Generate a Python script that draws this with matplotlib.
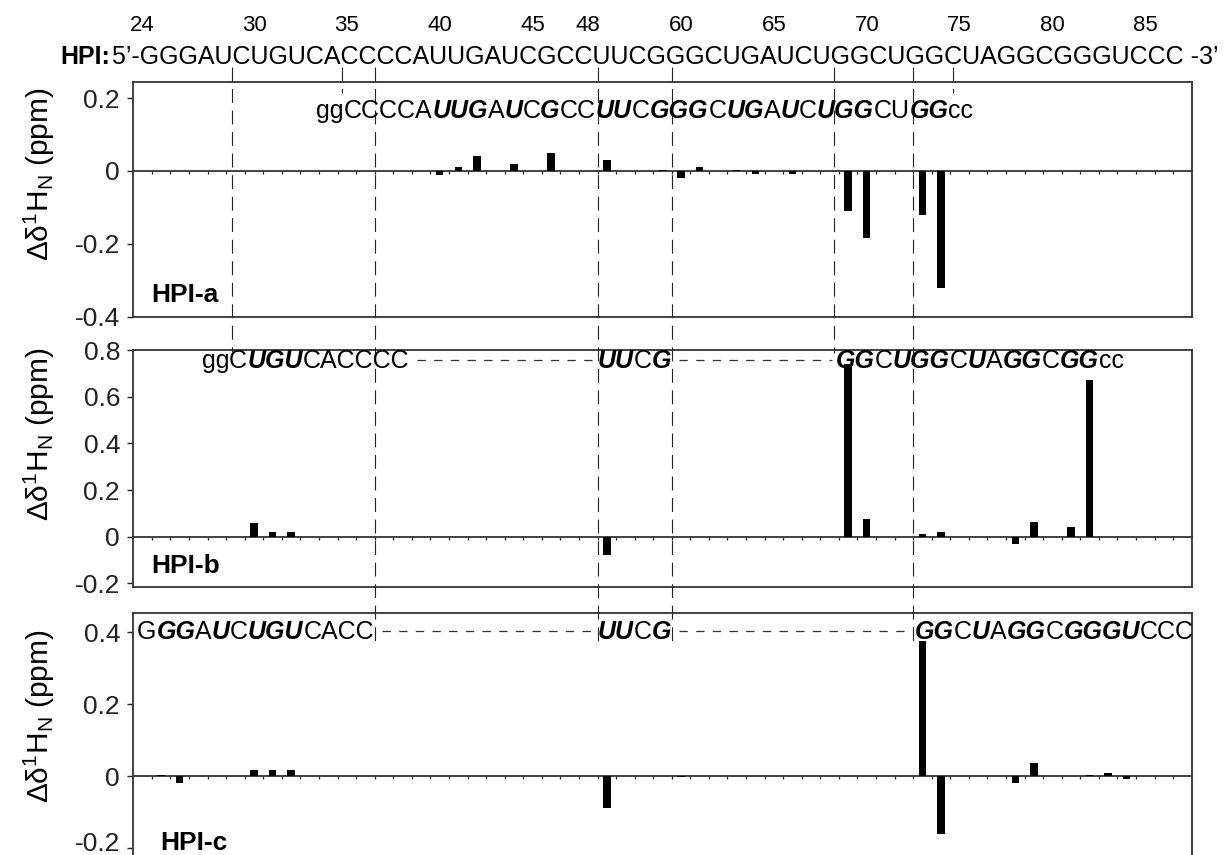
import numpy as np
import matplotlib
matplotlib.use('Agg')
import matplotlib.pyplot as plt
from matplotlib import transforms
from matplotlib.lines import Line2D

# ---- data -------------------------------------------------------------
# HPI sequence, one bar slot per nucleotide (UUCG loop replaces 49-59)
seq = "GGGAUCUGUCACCCCAUUGAUCGCCUUCGGGCUGAUCUGGCUGGCUAGGCGGGUCCC"
num_pos = [0, 6, 11, 16, 21, 24, 29, 34, 39, 44, 49, 54]
num_labels = ['24', '30', '35', '40', '45', '48', '60', '65', '70', '75', '80', '85']

# chemical shift perturbations (ppm) by slot index
hpi_a_idx = [16, 17, 18, 20, 22, 25, 28, 29, 30, 32, 33, 35, 38, 39, 42, 43]
hpi_a_val = [-0.01, 0.01, 0.04, 0.02, 0.05, 0.03, 0.004, -0.02, 0.01, 0.004,
             -0.009, -0.009, -0.11, -0.183, -0.121, -0.321]
hpi_b_idx = [6, 7, 8, 25, 38, 39, 42, 43, 47, 48, 50, 51]
hpi_b_val = [0.06, 0.02, 0.02, -0.078, 0.74, 0.074, 0.01, 0.02, -0.029, 0.062,
             0.042, 0.672]
hpi_c_idx = [1, 2, 6, 7, 8, 25, 29, 42, 43, 47, 48, 51, 52, 53]
hpi_c_val = [0.002, -0.018, 0.017, 0.017, 0.017, -0.089, -0.003, 0.375, -0.16,
             -0.019, 0.036, 0.002, 0.01, -0.009]

yticks_a = [0.2, 0, -0.2, -0.4]
yticks_b = [0.8, 0.6, 0.4, 0.2, 0, -0.2]
yticks_c = [0.4, 0.2, 0, -0.2]

# construct sequences drawn in each panel: (text, bold-italic)
seq_a = [[("gg", 0), ("CCCCA", 0), ("UUG", 1), ("A", 0), ("U", 1), ("C", 0), ("G", 1),
          ("CC", 0), ("UU", 1), ("C", 0), ("GGG", 1), ("C", 0), ("UG", 1), ("A", 0),
          ("U", 1), ("C", 0), ("UGG", 1), ("CU", 0), ("GG", 1), ("cc", 0)]]
seq_b = [[("gg", 0), ("C", 0), ("UGU", 1), ("CACCCC", 0)],
         [("UU", 1), ("C", 0), ("G", 1)],
         [("GG", 1), ("C", 0), ("UGG", 1), ("C", 0), ("U", 1), ("A", 0), ("GG", 1),
          ("C", 0), ("GG", 1), ("cc", 0)]]
seq_c = [[("G", 0), ("GG", 1), ("A", 0), ("U", 1), ("C", 0), ("UGU", 1), ("CACC", 0)],
         [("UU", 1), ("C", 0), ("G", 1)],
         [("GG", 1), ("C", 0), ("U", 1), ("A", 0), ("GG", 1), ("C", 0), ("GGGU", 1),
          ("CCC", 0)]]

# ---- style ------------------------------------------------------------
plt.rcParams['font.family'] = ['Liberation Sans', 'DejaVu Sans']
plt.rcParams['mathtext.fontset'] = 'custom'
plt.rcParams['mathtext.rm'] = 'Liberation Sans'
plt.rcParams['mathtext.it'] = 'Liberation Sans:italic'
plt.rcParams['mathtext.bf'] = 'Liberation Sans:bold'
plt.rcParams['lines.scale_dashes'] = False

W, H = 1230, 855
fig = plt.figure(figsize=(W / 100, H / 100), dpi=100)


def fx(x):
    return x / W


def fy(y):
    return 1 - y / H


left, right = 133.3, 1191.7
boxes = [(81.7, 316.7), (350, 586.7), (612.7, 855)]
ylims = [(-0.4, 0.245), (-0.214, 0.80), (-0.219, 0.454)]
idxs = [hpi_a_idx, hpi_b_idx, hpi_c_idx]
vals = [hpi_a_val, hpi_b_val, hpi_c_val]
ticks = [yticks_a, yticks_b, yticks_c]
names = ['HPI-a', 'HPI-b', 'HPI-c']
name_xy = [(0.0174, 0.064), (0.0174, 0.057), (0.025, 0.021)]
ylab_y = [174.5, 434.5, 716]
spine_col = '#333333'

axes = []
for i in range(3):
    top, bot = boxes[i]
    ax = fig.add_axes([fx(left), fy(bot), fx(right - left), (bot - top) / H])
    ax.bar(idxs[i], vals[i], width=0.4, color='black', zorder=3)
    ax.set_xlim(-0.5, len(seq) - 0.5)
    ax.set_ylim(*ylims[i])
    ax.set_yticks(ticks[i])
    ax.set_yticklabels(['0' if t == 0 else f'{t:g}' for t in ticks[i]])
    ax.tick_params(axis='y', direction='out', length=4.5, width=1,
                   labelsize=19, pad=5, colors='#222222')
    ax.spines['bottom'].set_position(('data', 0))
    ax.set_xticks(np.arange(0.5, len(seq) - 1, 1))
    ax.tick_params(axis='x', direction='out', length=2.5, width=0.9,
                   labelbottom=False, colors='#222222')
    for s in ax.spines.values():
        s.set_color(spine_col)
        s.set_linewidth(1.3)
    if i < 2:
        ax.plot([0, 1], [0, 0], transform=ax.transAxes, color=spine_col,
                lw=1.3, clip_on=False, zorder=5)
    ax.text(name_xy[i][0], name_xy[i][1], names[i], transform=ax.transAxes,
            fontsize=19, fontweight='bold', va='baseline', ha='left')
    fig.text(fx(39.5), fy(ylab_y[i]), r'Δδ$^{1}$H$_{\mathrm{N}}$ (ppm)', rotation=90,
             fontsize=21.5, ha='center', va='center')
    axes.append(ax)

# lift the lowest label of the bottom panel so it stays inside the image
low_lab = axes[2].yaxis.get_major_ticks()[-1].label1
low_lab.set_transform(low_lab.get_transform() +
                      transforms.ScaledTranslation(0, 0.07, fig.dpi_scale_trans))

ax_a = axes[0]
blend = transforms.blended_transform_factory(ax_a.transData, fig.transFigure)

# residue numbers above the sequence
for p, lab in zip(num_pos, num_labels):
    ax_a.text(p, fy(31), lab, transform=blend, fontsize=16, ha='center',
              va='baseline')

renderer = fig.canvas.get_renderer()
gap = 0.0


def put_runs(runs, x, y, size=18):
    for s, b in runs:
        t = fig.text(fx(x), fy(y), s, fontsize=size,
                     fontweight='bold' if b else 'normal',
                     fontstyle='italic' if b else 'normal',
                     va='baseline', ha='left', zorder=6)
        bb = t.get_window_extent(renderer)
        x = bb.x1 + gap
    return x - gap


# full sequence on top
put_runs([("HPI:", 1)], 60, 64)
fig.texts[-1].set_fontstyle('normal')
put_runs([("5\u2019-" + seq + " -3\u2019", 0)], 111.7, 64)


def put_construct(groups, starts, y):
    ends = []
    for g, x0 in zip(groups, starts):
        ends.append(put_runs(g, x0, y))
    for k in range(len(groups) - 1):
        fig.add_artist(Line2D([fx(ends[k] + 8), fx(starts[k + 1] - 4)],
                              [fy(y - 8), fy(y - 8)], transform=fig.transFigure,
                              color='#333333', lw=0.9, ls=(0, (6, 6))))


put_construct(seq_a, [316], 118.3)
put_construct(seq_b, [201.7, 597.3, 836], 368.3)
put_construct(seq_c, [137, 597.3, 915], 639)

# vertical guide lines (x in slot units, lower end in px)
guides = [(4.83, 352), (10.76, 93), (12.5, 641), (24.5, 641), (28.5, 641),
          (37.25, 353), (41.5, 641), (43.64, 93)]
for gx, yend in guides:
    fig.add_artist(Line2D([gx, gx], [fy(67), fy(yend)], transform=blend,
                          color='#222222', lw=0.8, ls=(0, (10, 5.5))))

fig.savefig('out.png', dpi=100)
